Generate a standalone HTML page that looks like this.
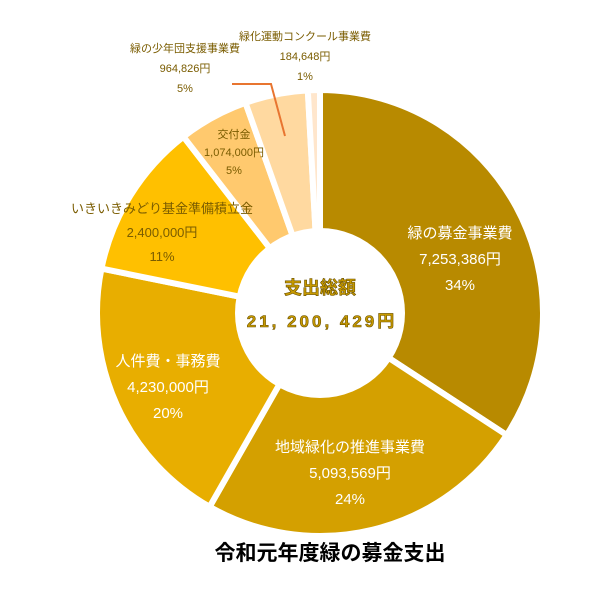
<!DOCTYPE html>
<html><head><meta charset="utf-8">
<style>
body{margin:0;background:#fff;}
svg text{font-family:"Liberation Sans","Noto Sans CJK JP",sans-serif;}
</style></head>
<body>
<svg width="604" height="594" viewBox="0 0 604 594">
<g id="slices"></g>
<circle cx="320" cy="313" r="85" fill="#fff"/>
<text x="320" y="294" text-anchor="middle" font-size="18" font-weight="bold" fill="#C89A00" stroke="#6b5200" stroke-width="0.6">支出総額</text>
<text x="322" y="327" text-anchor="middle" font-size="17" font-weight="bold" fill="#C89A00" stroke="#6b5200" stroke-width="0.6" letter-spacing="3">21, 200, 429円</text>
<polyline points="232,84 271,84 285,136" fill="none" stroke="#E87530" stroke-width="2"/>
<g id="labels"></g>
<text x="330" y="560" text-anchor="middle" font-size="21" font-weight="bold" fill="#000">令和元年度緑の募金支出</text>
</svg>
<script>
const categories=["緑の募金事業費","地域緑化の推進事業費","人件費・事務費","いきいきみどり基金準備積立金","交付金","緑の少年団支援事業費","緑化運動コンクール事業費"];
const values=[7253386,5093569,4230000,2400000,1074000,964826,184648];
const valueLabels=["7,253,386円","5,093,569円","4,230,000円","2,400,000円","1,074,000円","964,826円","184,648円"];
const pctLabels=["34%","24%","20%","11%","5%","5%","1%"];
const colors=["#B88A00","#D4A000","#E8AE00","#FFC000","#FFC96E","#FFD9A0","#FFE6CC"];
const cx=320,cy=313,R=223,r=85;
const total=values.reduce((a,b)=>a+b,0);
function pt(a,rad){return [cx+rad*Math.sin(a),cy-rad*Math.cos(a)];}
const gS=document.getElementById('slices'),gL=document.getElementById('labels');
const NS="http://www.w3.org/2000/svg";
let acc=0;
// label placement (layout, not data)
const lay=[
 {x:460,y:238,fs:15,c:"#fff",dy:26},
 {x:350,y:452,fs:15,c:"#fff",dy:26},
 {x:168,y:366,fs:15,c:"#fff",dy:26},
 {x:162,y:213,fs:13,c:"#7a5c00",dy:24},
 {x:234,y:138,fs:11,c:"#7a5c00",dy:18},
 {x:185,y:52,fs:11,c:"#7a5c00",dy:20},
 {x:305,y:40,fs:11,c:"#7a5c00",dy:20}
];
values.forEach((v,i)=>{
 const a0=acc/total*2*Math.PI;acc+=v;const a1=acc/total*2*Math.PI;
 const [x0,y0]=pt(a0,R),[x1,y1]=pt(a1,R),[x2,y2]=pt(a1,r-5),[x3,y3]=pt(a0,r-5);
 const lg=(a1-a0)>Math.PI?1:0;
 const p=document.createElementNS(NS,'path');
 p.setAttribute('d',`M${x0},${y0}A${R},${R} 0 ${lg} 1 ${x1},${y1}L${x2},${y2}A${r-5},${r-5} 0 ${lg} 0 ${x3},${y3}Z`);
 p.setAttribute('fill',colors[i]);p.setAttribute('stroke','#fff');p.setAttribute('stroke-width','6');
 
 
 gS.appendChild(p);
 const L=lay[i];
 [categories[i],valueLabels[i],pctLabels[i]].forEach((s,k)=>{
  const t=document.createElementNS(NS,'text');
  t.setAttribute('x',L.x);t.setAttribute('y',L.y+k*L.dy);
  t.setAttribute('text-anchor','middle');t.setAttribute('font-size',L.fs);t.setAttribute('fill',L.c);
  t.textContent=s;
  
  
  gL.appendChild(t);
 });
});
</script>
</body></html>
